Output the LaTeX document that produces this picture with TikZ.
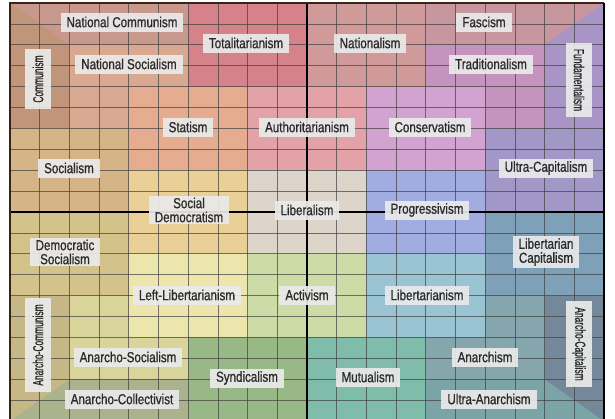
\documentclass[tikz,border=0pt]{standalone}
\usepackage{fontspec}
\setmainfont[FakeStretch=0.8, FakeBold=0.8]{Liberation Sans}
\newfontfamily\tallfont[FakeStretch=0.58, FakeBold=0.8]{Liberation Sans}

\definecolor{natcom}{HTML}{C9988C}
\definecolor{commun}{HTML}{C0957A}
\definecolor{totali}{HTML}{D5828A}
\definecolor{nation}{HTML}{D09A9B}
\definecolor{fascis}{HTML}{C8969F}
\definecolor{fundam}{HTML}{A895C5}
\definecolor{natsoc}{HTML}{D8A890}
\definecolor{tradit}{HTML}{C493BE}
\definecolor{statis}{HTML}{E6AC8F}
\definecolor{author}{HTML}{E3A2A7}
\definecolor{conser}{HTML}{D2A2D0}
\definecolor{social}{HTML}{D5B488}
\definecolor{ultcap}{HTML}{A298C8}
\definecolor{socdem}{HTML}{EACF97}
\definecolor{libera}{HTML}{DDD5CA}
\definecolor{progre}{HTML}{A2ACE0}
\definecolor{demsoc}{HTML}{D3C289}
\definecolor{libcap}{HTML}{7FA0B9}
\definecolor{leftli}{HTML}{EDE6AC}
\definecolor{activi}{HTML}{CDDCA7}
\definecolor{libert}{HTML}{9AC3D3}
\definecolor{ancom}{HTML}{C6B787}
\definecolor{ansoc}{HTML}{D9D49A}
\definecolor{anarch}{HTML}{86A6AE}
\definecolor{ancap}{HTML}{748899}
\definecolor{syndic}{HTML}{98B985}
\definecolor{mutual}{HTML}{7FBCAA}
\definecolor{ancoll}{HTML}{AAB28E}
\definecolor{ultana}{HTML}{7BA4A7}
\definecolor{boxgray}{HTML}{EAEAEA}
\definecolor{inkgray}{HTML}{2A2A2A}
\definecolor{framebrown}{HTML}{3A2416}

\begin{document}
\begin{tikzpicture}[x=1pt,y=-1pt]
        \tikzset{ideo/.style = {fill=boxgray, fill opacity=0.92, text opacity=1, text=inkgray, inner xsep=6pt, inner ysep=2pt, minimum height=19pt, font=\fontsize{14.5}{14}\selectfont}}
        \tikzset{ideoup/.style = {ideo, minimum height=26pt, font=\tallfont\fontsize{14.5}{14}\selectfont}}
        \tikzset{gridline/.style = {draw=black!75, line width=0.8pt, opacity=0.7}}
        \tikzset{axis/.style = {draw=black, line width=1.8pt}}
        \useasboundingbox (0,0) rectangle (615,418);
        \clip (0,0) rectangle (615,418);
        % zones
        \begin{scope}[shift={(10pt,-3pt)}, x=29.7pt, y=-20.9pt]
        \fill[natcom] (0,0) rectangle (6,2);
        \fill[commun] (0,2) rectangle (2,6);
        \fill[commun] (0,0) -- (2,2) -- (0,2) -- cycle;
        \fill[totali] (6,0) rectangle (10,4);
        \fill[nation] (10,0) rectangle (14,4);
        \fill[fascis] (14,0) rectangle (20,2);
        \fill[fundam] (18,2) rectangle (20,6);
        \fill[fundam] (18,2) -- (20,0) -- (20,2) -- cycle;
        \fill[natsoc] (2,2) rectangle (6,4);
        \fill[natsoc] (2,4) rectangle (4,6);
        \fill[tradit] (14,2) rectangle (18,4);
        \fill[tradit] (16,4) rectangle (18,6);
        \fill[statis] (4,4) rectangle (8,8);
        \fill[author] (8,4) rectangle (12,8);
        \fill[conser] (12,4) rectangle (16,8);
        \fill[social] (0,6) rectangle (4,10);
        \fill[ultcap] (16,6) rectangle (20,10);
        \fill[socdem] (4,8) rectangle (8,12);
        \fill[libera] (8,8) rectangle (12,12);
        \fill[progre] (12,8) rectangle (16,12);
        \fill[demsoc] (0,10) rectangle (4,14);
        \fill[libcap] (16,10) rectangle (20,14);
        \fill[leftli] (4,12) rectangle (8,16);
        \fill[activi] (8,12) rectangle (12,16);
        \fill[libert] (12,12) rectangle (16,16);
        \fill[ansoc] (2,14) rectangle (4,16);
        \fill[ansoc] (2,16) rectangle (6,18);
        \fill[anarch] (16,14) rectangle (18,16);
        \fill[anarch] (14,16) rectangle (18,18);
        \fill[syndic] (6,16) rectangle (10,20);
        \fill[mutual] (10,16) rectangle (14,20);
        \fill[ancoll] (0,18) rectangle (6,20);
        \fill[ultana] (14,18) rectangle (20,20);
        \fill[ancom] (0,14) rectangle (2,18);
        \fill[ancom] (0,18) -- (2,18) -- (0,20) -- cycle;
        \fill[ancap] (18,14) rectangle (20,18);
        \fill[ancap] (18,18) -- (20,18) -- (20,20) -- cycle;
        % grid
        \foreach \i in {1,...,19} {
            \draw[gridline] (\i,0) -- (\i,20);
            \draw[gridline] (0,\i) -- (20,\i);
        }
        \draw[axis] (10,0) -- (10,20);
        \draw[axis] (0,10) -- (20,10);
        \draw[framebrown, line width=1.6pt] (0,20) -- (0,0) -- (20,0);
        \draw[black, line width=1.8pt] (20,0) -- (20,20);
        \end{scope}
        % upper half
        \node[ideo] (natcom) at (122,22) {National Communism};
        \node[ideo] (totali) at (246,43) {Totalitarianism};
        \node[ideo] (nation) at (370,43) {Nationalism};
        \node[ideo] (fascis) at (484,22) {Fascism};
        \node[ideoup, rotate=90] (commun) at (38,79) {Communism};
        \node[ideoup, rotate=-90] (fundam) at (579,80) {Fundamentalism};
        \node[ideo] (natsoc) at (129,64) {National Socialism};
        \node[ideo] (tradit) at (491,64) {Traditionalism};
        \node[ideo] (statis) at (188,127) {Statism};
        \node[ideo] (author) at (307,127) {Authoritarianism};
        \node[ideo] (conser) at (430,127) {Conservatism};
        \node[ideo] (social) at (69,168) {Socialism};
        \node[ideo] (ultcap) at (546,168) {Ultra-Capitalism};
        \node[ideo, align=center] (socdem) at (189,210) {Social\\Democratism};
        \node[ideo] (libera) at (307,210) {Liberalism};
        \node[ideo] (progre) at (427,210) {Progressivism};
        % lower half
        \node[ideo, align=center] (demsoc) at (65,252) {Democratic\\Socialism};
        \node[ideo, align=center] (libcap) at (546,252) {Libertarian\\Capitalism};
        \node[ideo] (leftli) at (187,295) {Left-Libertarianism};
        \node[ideo] (activi) at (307,295) {Activism};
        \node[ideo] (libert) at (427,295) {Libertarianism};
        \node[ideoup, rotate=90] (ancom) at (38,345) {Anarcho-Communism};
        \node[ideoup, rotate=-90] (ancap) at (579,344) {Anarcho-Capitalism};
        \node[ideo] (ansoc) at (128,357) {Anarcho-Socialism};
        \node[ideo] (anarch) at (485,357) {Anarchism};
        \node[ideo] (syndic) at (247,378) {Syndicalism};
        \node[ideo] (mutual) at (368,377) {Mutualism};
        \node[ideo] (ancoll) at (122,399) {Anarcho-Collectivist};
        \node[ideo] (ultana) at (489,399) {Ultra-Anarchism};
\end{tikzpicture}
\end{document}
